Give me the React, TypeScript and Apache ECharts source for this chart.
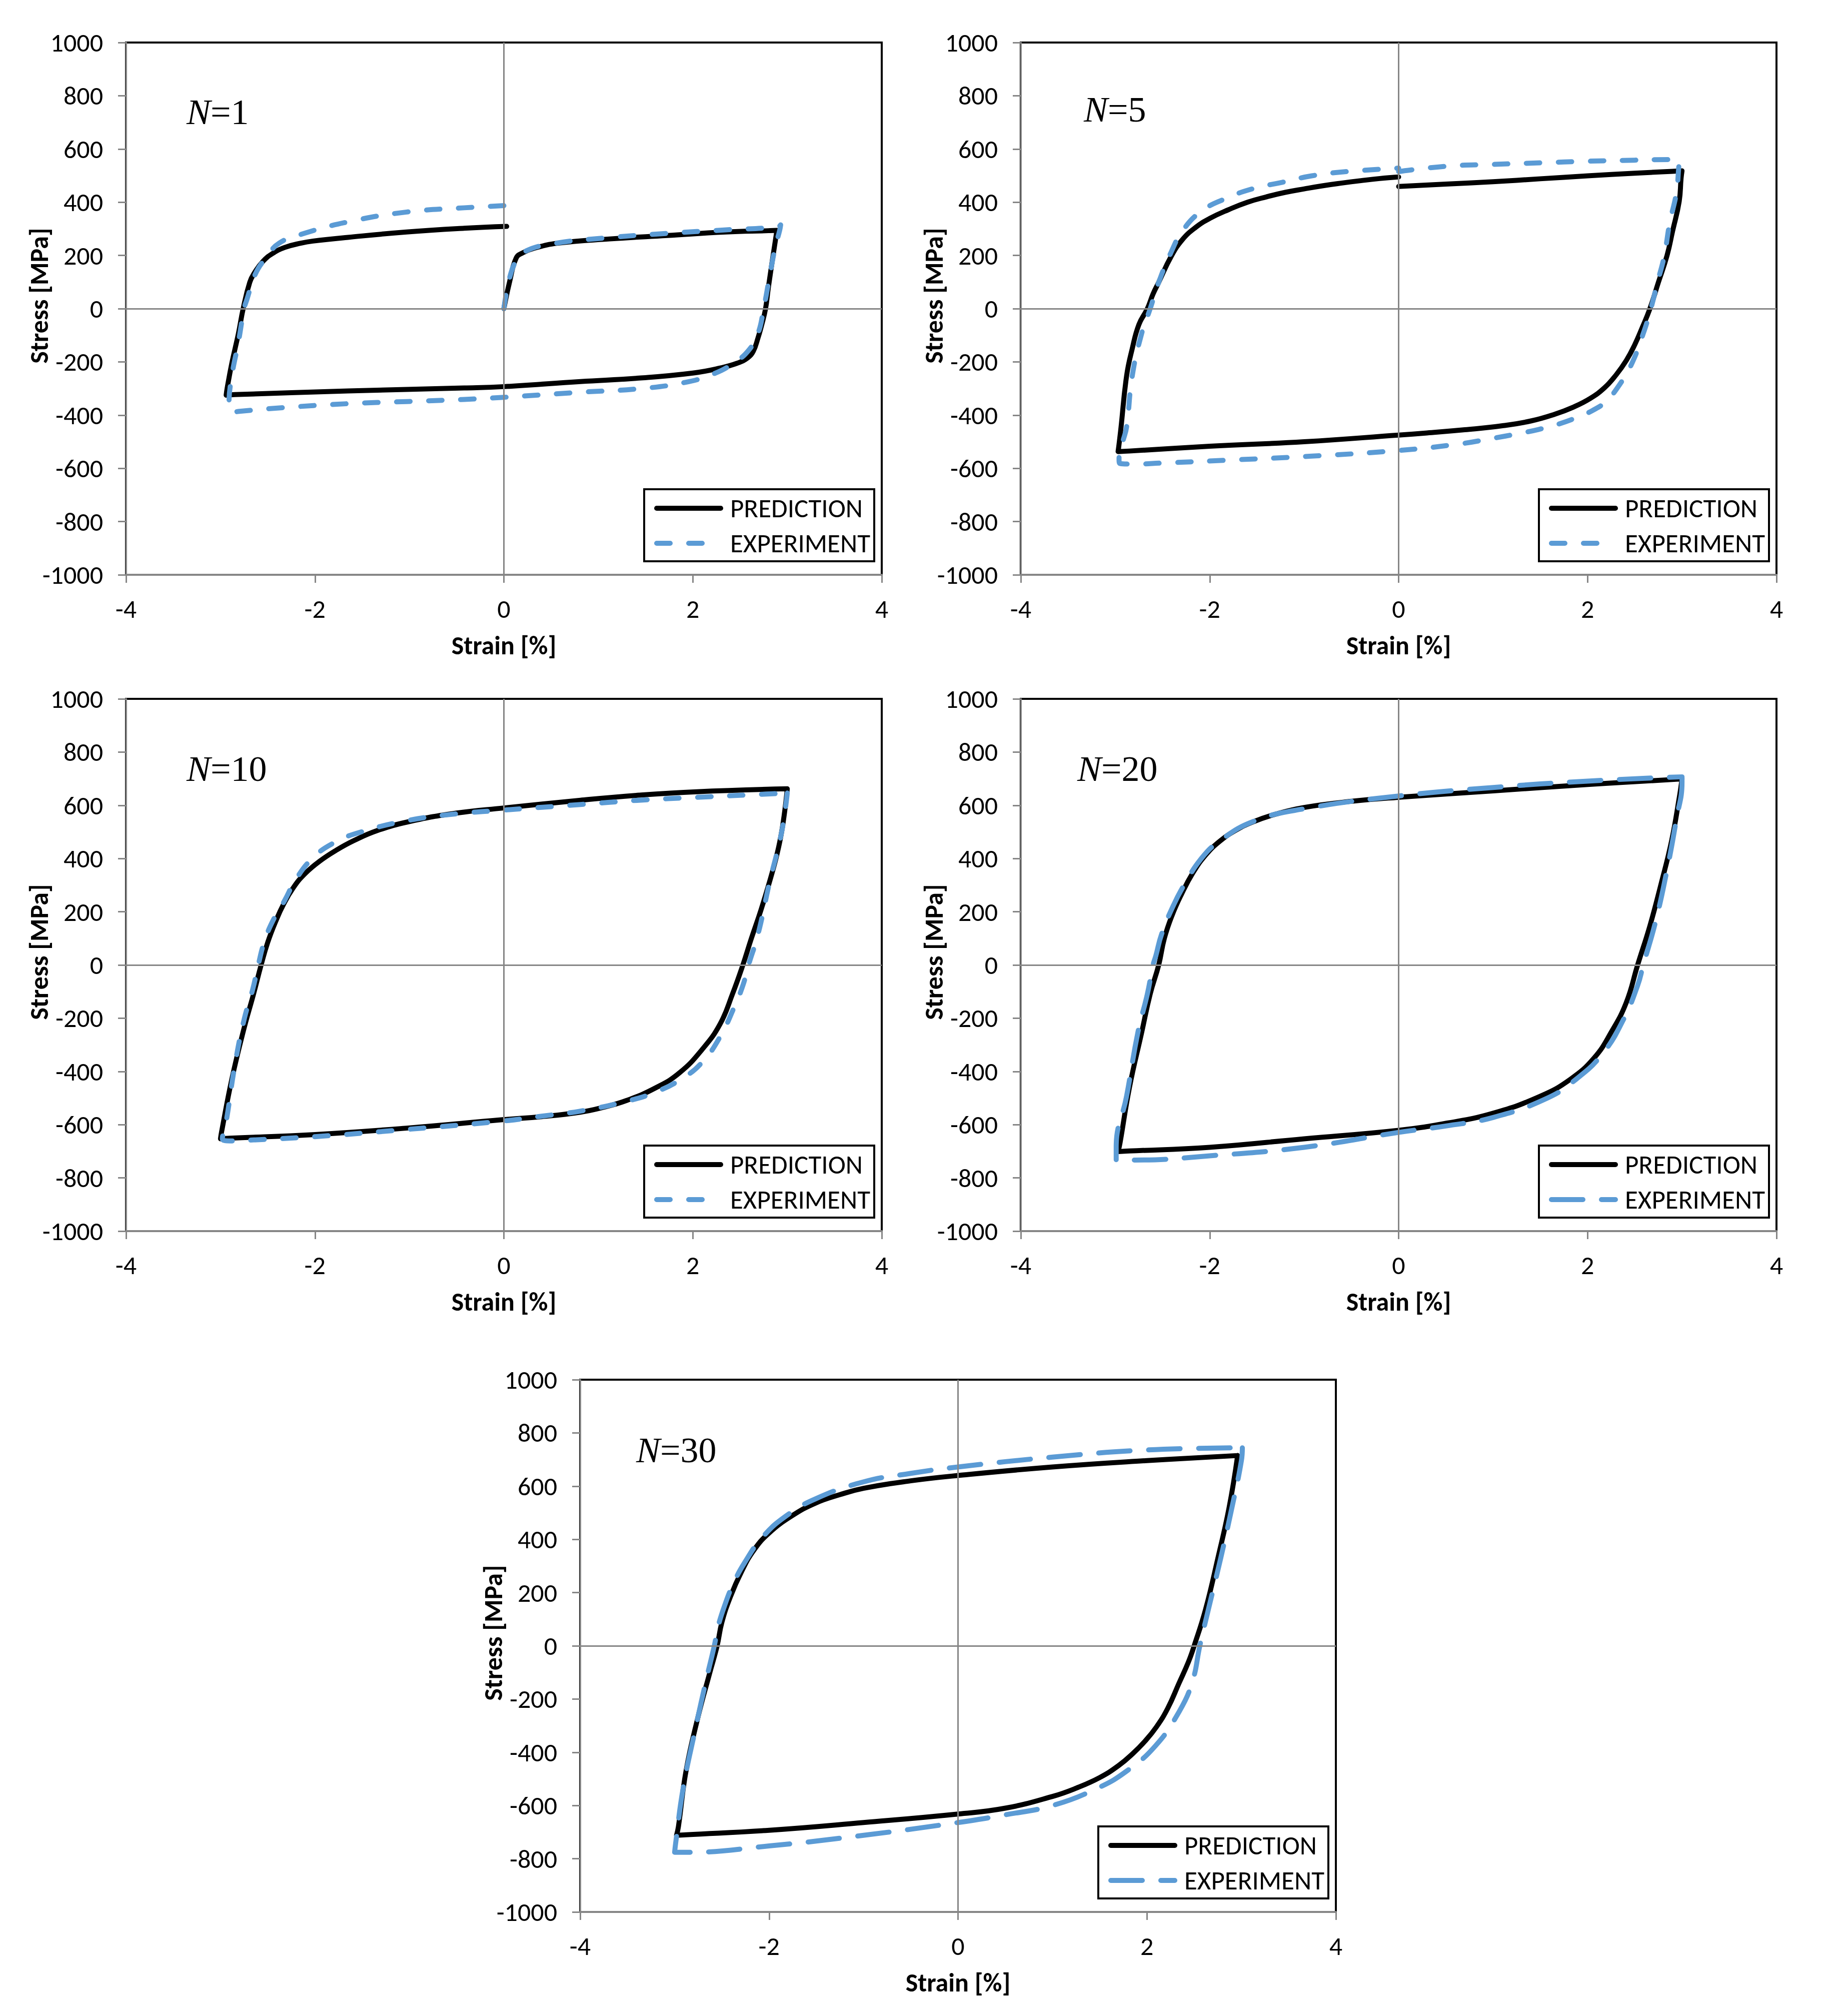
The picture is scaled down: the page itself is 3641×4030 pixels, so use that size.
import React, { useEffect, useRef } from "react";
import * as echarts from "echarts";

// ---------------- data ----------------
const panelLabels = ["1", "5", "10", "20", "30"];
const seriesNames = ["PREDICTION", "EXPERIMENT"];
const xTicks = { min: -4, max: 4, interval: 2 };
const yTicks = { min: -1000, max: 1000, interval: 200 };

const pred1 = [
  [0, 0], [0.06, 100], [0.13, 190], [0.2, 210], [0.32, 227], [0.57, 246], [1.12, 262], [1.73, 275], [2.35, 288], [2.8, 293], [2.89, 294],
  [2.88, 270], [2.85, 200], [2.8, 80], [2.77, 0], [2.73, -60], [2.69, -110], [2.64, -160], [2.58, -185], [2.47, -205], [2.29, -223], [2.0, -242], [1.43, -261],
  [0.81, -274], [0, -293], [-0.42, -298], [-1.65, -309], [-2.85, -323], [-2.94, -325],
  [-2.93, -300], [-2.88, -205], [-2.81, -93], [-2.76, 0], [-2.69, 99], [-2.64, 135], [-2.55, 178], [-2.45, 207], [-2.32, 230], [-2.15, 246], [-2.02, 254], [-1.65, 268],
  [-1.03, 288], [-0.42, 302], [0.03, 309],
];
const exp1 = [
  [0, 0], [0.05, 100], [0.12, 175], [0.2, 211], [0.5, 243], [1.12, 267], [1.73, 283], [2.35, 296], [2.9, 307], [2.93, 315],
  [2.92, 295], [2.87, 227], [2.81, 115], [2.75, 0], [2.69, -93], [2.59, -157], [2.43, -205], [2.22, -245], [1.92, -277], [1.43, -301],
  [0.81, -314], [0, -333], [-0.42, -341], [-1.03, -349], [-1.65, -357], [-2.38, -373], [-2.8, -386], [-2.88, -389],
  [-2.91, -360], [-2.88, -253], [-2.81, -125], [-2.75, 0], [-2.72, 35], [-2.63, 131], [-2.51, 195], [-2.38, 246], [-2.14, 280],
  [-1.65, 326], [-1.03, 363], [-0.42, 379], [0, 387],
];
const pred5 = [
  [0, 459], [0.5, 468], [1, 477], [1.5, 488], [2, 499], [2.5, 509], [2.9, 516], [3.0, 518],
  [2.99, 490], [2.97, 403], [2.9, 291], [2.84, 198], [2.75, 99], [2.66, 0], [2.58, -70], [2.5, -135], [2.41, -195], [2.3, -250], [2.18, -297],
  [2.03, -337], [1.85, -370], [1.65, -397], [1.4, -422], [1.1, -440], [0.7, -455], [0.3, -467], [0, -475], [-1, -500], [-2, -517], [-2.85, -535], [-2.97, -537],
  [-2.96, -510], [-2.94, -450], [-2.88, -253], [-2.82, -150], [-2.75, -60], [-2.66, 0], [-2.6, 55], [-2.54, 99], [-2.41, 195], [-2.29, 259],
  [-2.15, 305], [-2.0, 339], [-1.8, 372], [-1.6, 400], [-1.4, 420], [-1.2, 437], [-1.0, 450], [-0.8, 462], [-0.6, 472], [-0.4, 481], [-0.2, 489], [0, 495],
];
const exp5 = [
  [0, 515], [0.5, 535], [1, 542], [1.5, 548], [2, 554], [2.5, 558], [2.85, 560], [2.97, 560],
  [2.965, 530], [2.94, 435], [2.87, 323], [2.81, 195], [2.74, 99], [2.67, 0], [2.59, -93], [2.47, -205], [2.34, -285], [2.19, -350],
  [2.05, -383], [1.9, -407], [1.69, -434], [1.48, -454], [1.26, -470], [1.0, -487], [0.63, -509], [0, -533], [-0.92, -554], [-1.85, -570],
  [-2.5, -580], [-2.79, -584], [-2.95, -582],
  [-2.96, -565], [-2.92, -500], [-2.88, -445], [-2.82, -253], [-2.72, -93], [-2.63, 0], [-2.54, 99], [-2.41, 211], [-2.29, 291],
  [-2.1, 363], [-1.85, 411], [-1.54, 451], [-1.23, 475], [-0.92, 499], [-0.55, 515], [0, 528],
];
const pred10 = [
  [3.0, 662], [2.97, 570], [2.93, 480], [2.88, 400], [2.81, 310], [2.72, 205], [2.62, 100], [2.53, 0], [2.42, -109], [2.29, -221], [2.1, -317], [1.86, -405],
  [1.61, -461], [1.3, -509], [1.05, -535], [0.81, -553], [0.4, -570], [0, -581], [-1.03, -613], [-2.0, -637], [-2.9, -651], [-3.0, -653],
  [-2.99, -630], [-2.88, -429], [-2.75, -237], [-2.65, -109], [-2.57, 0], [-2.5, 85], [-2.42, 160], [-2.33, 230], [-2.22, 295], [-2.1, 345],
  [-1.95, 390], [-1.78, 430], [-1.59, 467], [-1.34, 505], [-1.0, 539], [-0.5, 571], [0, 590], [0.81, 619], [1.43, 638], [2.04, 651], [3.0, 662],
];
const exp10 = [
  [3.0, 646], [2.94, 499], [2.81, 307], [2.69, 115], [2.59, 0], [2.53, -77], [2.44, -157], [2.29, -269], [2.1, -365], [1.89, -426],
  [1.61, -477], [1.3, -512], [0.81, -549], [0.4, -568], [0, -586], [-1.03, -618], [-2.0, -645], [-2.8, -660], [-2.9, -661], [-2.98, -653],
  [-2.94, -589], [-2.85, -381], [-2.75, -205], [-2.66, -93], [-2.6, 0], [-2.54, 83], [-2.45, 163], [-2.32, 243], [-2.2, 323],
  [-2.02, 403], [-1.8, 459], [-1.52, 499], [-1.0, 544], [-0.5, 568], [0, 582], [0.81, 603], [1.43, 619], [2.04, 630], [2.65, 640], [3.0, 646],
];
const pred20 = [
  [3.0, 699], [2.97, 627], [2.89, 467], [2.78, 307], [2.66, 147], [2.53, 0], [2.41, -141], [2.25, -253], [2.07, -349], [1.82, -429],
  [1.5, -493], [1.0, -557], [0.5, -595], [0, -621], [-1.0, -653], [-2.0, -685], [-2.85, -699], [-2.97, -701],
  [-2.95, -670], [-2.85, -461], [-2.72, -253], [-2.63, -109], [-2.54, 0], [-2.48, 100], [-2.4, 185], [-2.3, 265], [-2.18, 345], [-2.05, 410],
  [-1.9, 463], [-1.72, 507], [-1.54, 538], [-1.3, 567], [-1.0, 592], [-0.5, 615], [0, 630], [1.0, 654], [2.0, 678], [3.0, 699],
];
const exp20 = [
  [3.0, 707], [3.0, 688], [2.94, 547], [2.84, 355], [2.72, 163], [2.59, 0], [2.53, -77], [2.38, -205], [2.16, -333], [1.88, -429],
  [1.57, -501], [1.0, -573], [0.5, -605], [0, -629], [-1.0, -685], [-2.0, -717], [-2.79, -733], [-2.99, -733],
  [-2.99, -685], [-2.88, -493], [-2.76, -253], [-2.66, -109], [-2.6, 0], [-2.57, 35], [-2.51, 115], [-2.38, 227], [-2.26, 307],
  [-2.1, 395], [-1.92, 459], [-1.54, 539], [-1.0, 587], [0, 635], [1.0, 667], [2.0, 691], [3.0, 707],
];
const pred30 = [
  [2.96, 715], [2.87, 520], [2.75, 328], [2.62, 136], [2.5, 0], [2.44, -60], [2.34, -140], [2.22, -235], [2.1, -305], [1.98, -358], [1.85, -405],
  [1.7, -450], [1.5, -495], [1.25, -535], [1.0, -566], [0.5, -610], [0, -632], [-1.0, -664], [-2.0, -693], [-2.88, -710], [-2.98, -712],
  [-2.96, -680], [-2.88, -472], [-2.75, -264], [-2.63, -104], [-2.55, 0], [-2.5, 88], [-2.41, 184], [-2.29, 280], [-2.16, 360], [-2.0, 424],
  [-1.76, 488], [-1.51, 536], [-1.25, 568], [-1.0, 592], [-0.5, 620], [0, 640], [1.0, 672], [2.0, 696], [2.96, 715],
];
const exp30 = [
  [3.01, 744], [3.0, 696], [2.9, 520], [2.78, 328], [2.65, 136], [2.56, 0], [2.48, -136], [2.34, -248], [2.09, -376], [1.78, -472],
  [1.47, -536], [1.0, -600], [0.5, -635], [0, -664], [-1.0, -712], [-2.0, -752], [-2.88, -776], [-3.0, -776],
  [-2.99, -744], [-2.91, -536], [-2.78, -312], [-2.66, -120], [-2.58, 0], [-2.54, 72], [-2.47, 152], [-2.38, 232], [-2.26, 312],
  [-2.07, 408], [-1.82, 488], [-1.51, 552], [-1.0, 616], [-0.5, 648], [0, 672], [1.0, 709], [2.0, 736], [3.01, 744],
];
const predictions = [pred1, pred5, pred10, pred20, pred30];
const experiments = [exp1, exp5, exp10, exp20, exp30];

// ---------------- layout & style ----------------
const W = 3641;
const H = 4030;
const PW = 1511;
const PH = 1064;
const panels = [
  { left: 252, top: 85, lx: 121, ly: 139, dash: [27, 37] },
  { left: 2041, top: 85, lx: 126, ly: 134, dash: [27, 37] },
  { left: 252, top: 1397, lx: 121, ly: 140, dash: [27, 37] },
  { left: 2041, top: 1397, lx: 113, ly: 140, dash: [63, 37] },
  { left: 1160, top: 2758, lx: 112, ly: 141, dash: [63, 37] },
];
const SANS = "Carlito, 'Liberation Sans Narrow', 'Liberation Sans', sans-serif";
const SERIF = "'Liberation Serif', 'Times New Roman', serif";
const GRAY = "#868686";
const BLUE = "#5B9BD5";
const SMOOTH = 0.45;

function buildOption() {
  const grid: any[] = [];
  const xAxis: any[] = [];
  const yAxis: any[] = [];
  const series: any[] = [];
  const legend: any[] = [];
  const graphic: any[] = [];
  const plain = (v: number) => String(v);

  panels.forEach((p, i) => {
    grid.push({
      left: p.left, top: p.top, width: PW, height: PH,
      show: true, borderColor: "#000", borderWidth: 4, backgroundColor: "transparent",
    });
    xAxis.push({
      gridIndex: i, type: "value", min: xTicks.min, max: xTicks.max, interval: xTicks.interval,
      axisLine: { show: true, onZero: false, lineStyle: { color: GRAY, width: 4 } },
      axisTick: { show: true, length: 16, lineStyle: { color: GRAY, width: 3 } },
      axisLabel: { margin: 42, fontSize: 52, color: "#000", fontFamily: SANS, formatter: plain },
      splitLine: { show: false },
      name: "Strain [%]", nameLocation: "middle", nameGap: 115, nameMoveOverlap: false,
      nameTextStyle: { fontSize: 52, fontWeight: "bold", color: "#000", fontFamily: SANS },
    });
    yAxis.push({
      gridIndex: i, type: "value", min: yTicks.min, max: yTicks.max, interval: yTicks.interval,
      axisLine: { show: true, onZero: false, lineStyle: { color: GRAY, width: 3 } },
      axisTick: { show: true, length: 16, lineStyle: { color: GRAY, width: 3 } },
      axisLabel: { margin: 46, fontSize: 52, color: "#000", fontFamily: SANS, formatter: plain },
      splitLine: { show: false },
      name: "Stress [MPa]", nameLocation: "middle", nameGap: 148, nameMoveOverlap: false,
      nameTextStyle: { fontSize: 52, fontWeight: "bold", color: "#000", fontFamily: SANS, padding: [0, 0, 0, 52] },
    });
    // zero lines
    series.push({
      type: "line", xAxisIndex: i, yAxisIndex: i, data: [], silent: true, z: 1,
      markLine: {
        silent: true, symbol: ["none", "none"], label: { show: false },
        lineStyle: { color: GRAY, width: 3, type: "solid" },
        emphasis: { disabled: true },
        data: [{ xAxis: 0 }, { yAxis: 0 }],
      },
    });
    series.push({
      type: "line", name: seriesNames[0], xAxisIndex: i, yAxisIndex: i, data: predictions[i],
      symbol: "none", showSymbol: false, smooth: SMOOTH, z: 3,
      itemStyle: { color: "#000" },
      lineStyle: { color: "#000", width: 10, cap: "round", join: "round" },
    });
    series.push({
      type: "line", name: seriesNames[1], xAxisIndex: i, yAxisIndex: i, data: experiments[i],
      symbol: "none", showSymbol: false, smooth: SMOOTH, z: 4,
      itemStyle: { color: BLUE },
      lineStyle: { color: BLUE, width: 10, type: p.dash, cap: "round", join: "round" },
    });
    legend.push({
      orient: "vertical",
      right: W - (p.left + PW - 15),
      bottom: H - (p.top + PH - 27),
      selectedMode: false,
      itemWidth: 128, itemHeight: 24, itemGap: 16,
      padding: [11, 8, 9, 20],
      borderColor: "#000", borderWidth: 4, backgroundColor: "#fff",
      itemStyle: { opacity: 0 },
      textStyle: { fontSize: 53, lineHeight: 54, color: "#000", fontFamily: SANS, padding: [0, 0, 0, 14] },
      data: [
        { name: seriesNames[0], itemStyle: { opacity: 0 }, lineStyle: { color: "#000", width: 10, type: "solid", cap: "round" } },
        { name: seriesNames[1], itemStyle: { opacity: 0 }, lineStyle: { color: BLUE, width: 10, type: p.dash, cap: "round" } },
      ],
    });
    graphic.push({
      type: "text",
      x: p.left + p.lx, y: p.top + p.ly,
      style: {
        text: "{i|N}=" + panelLabels[i],
        fontSize: 72, fontFamily: SERIF, fill: "#000",
        verticalAlign: "middle", align: "left",
        rich: { i: { fontStyle: "italic", fontSize: 72, fontFamily: SERIF } },
      },
    });
  });

  return {
    animation: false,
    backgroundColor: "#fff",
    grid, xAxis, yAxis, series, legend, graphic,
  };
}

export default function App() {
  const ref = useRef<HTMLDivElement>(null);
  useEffect(() => {
    if (!ref.current) return;
    const chart = echarts.init(ref.current, undefined, { renderer: "svg" });
    chart.setOption(buildOption());
    return () => chart.dispose();
  }, []);
  return (
    <div
      ref={ref}
      style={{ position: "absolute", left: 0, top: 0, width: W, height: H, background: "#fff" }}
    />
  );
}
